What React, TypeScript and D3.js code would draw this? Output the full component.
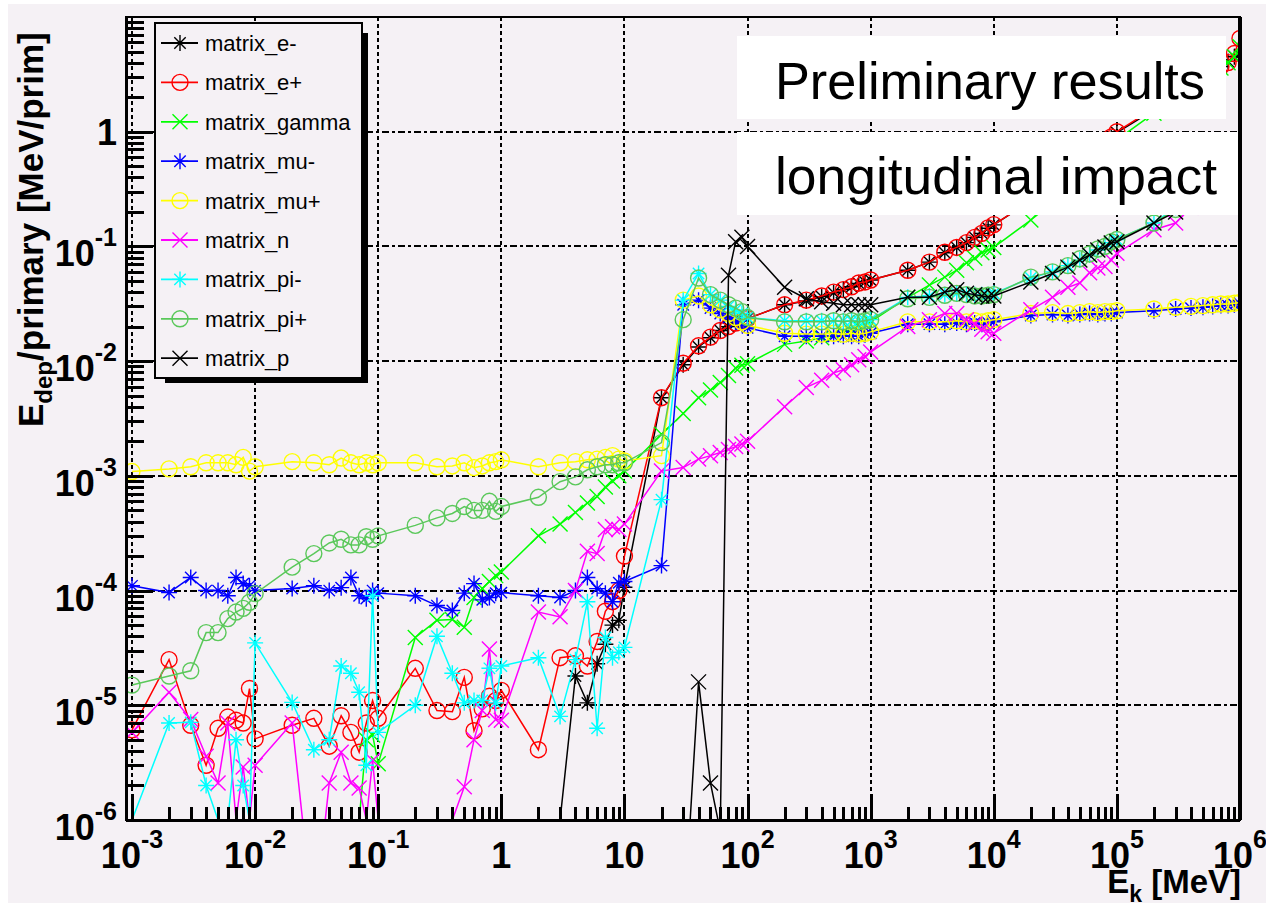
import React from "react";
import * as d3 from "d3";

// kinetic energy grid [MeV]
const energies = [
  0.001, 0.002, 0.003, 0.004, 0.005, 0.006, 0.007, 0.008, 0.009,
  0.01, 0.02, 0.03, 0.04, 0.05, 0.06, 0.07, 0.08, 0.09,
  0.1, 0.2, 0.3, 0.4, 0.5, 0.6, 0.7, 0.8, 0.9,
  1, 2, 3, 4, 5, 6, 7, 8, 9,
  10, 20, 30, 40, 50, 60, 70, 80, 90,
  100, 200, 300, 400, 500, 600, 700, 800, 900,
  1e3, 2e3, 3e3, 4e3, 5e3, 6e3, 7e3, 8e3, 9e3,
  1e4, 2e4, 3e4, 4e4, 5e4, 6e4, 7e4, 8e4, 9e4,
  1e5, 2e5, 3e5, 4e5, 5e5, 6e5, 7e5, 8e5, 9e5,
  1e6,
];

// E_dep / primary [MeV/prim]; 0 = nothing deposited
const eMinus = [
  0, 0, 0, 0, 0, 0, 0, 0, 0,
  0, 0, 0, 0, 0, 0, 0, 0, 0,
  0, 0, 0, 0, 0, 0, 0, 0, 0,
  0, 0, 0, 1.8e-5, 1.05e-5, 2.3e-5, 3.4e-5, 5.0e-5, 5.5e-5,
  1.07e-4, 4.8e-3, 9.3e-3, 1.33e-2, 1.6e-2, 1.85e-2, 2.0e-2, 2.15e-2, 2.25e-2,
  2.35e-2, 3.1e-2, 3.35e-2, 3.65e-2, 3.95e-2, 4.2e-2, 4.45e-2, 4.75e-2, 4.9e-2,
  5.1e-2, 6.2e-2, 7.3e-2, 8.8e-2, 9.8e-2, 0.108, 0.12, 0.13, 0.144,
  0.154, 0.25, 0.33, 0.41, 0.5, 0.58, 0.68, 0.78, 0.88,
  0.98, 1.55, 2.0, 2.5, 2.9, 3.3, 3.7, 4.1, 4.5,
  4.7,
];

const ePlus = [
  6.1e-6, 2.5e-5, 6.7e-6, 3.0e-6, 6.3e-6, 7.9e-6, 7.4e-6, 7.0e-6, 1.4e-5,
  5.1e-6, 6.7e-6, 7.7e-6, 4.4e-6, 8.1e-6, 5.8e-6, 3.9e-6, 7.0e-6, 1.1e-5,
  7.7e-6, 2.1e-5, 9.0e-6, 8.8e-6, 1.75e-5, 6.0e-6, 9.3e-6, 1.2e-5, 1.1e-5,
  1.35e-5, 4.1e-6, 2.6e-5, 2.7e-5, 2.2e-5, 3.6e-5, 6.6e-5, 8.0e-5, 1.0e-4,
  2.0e-4, 4.8e-3, 9.6e-3, 1.36e-2, 1.62e-2, 1.85e-2, 2.0e-2, 2.15e-2, 2.25e-2,
  2.35e-2, 3.1e-2, 3.4e-2, 3.7e-2, 4.0e-2, 4.2e-2, 4.45e-2, 4.8e-2, 4.9e-2,
  5.1e-2, 6.2e-2, 7.3e-2, 8.9e-2, 9.8e-2, 0.108, 0.12, 0.13, 0.145,
  0.155, 0.25, 0.34, 0.42, 0.51, 0.6, 0.7, 0.8, 0.9,
  1.0, 1.6, 2.1, 2.5, 2.9, 3.3, 3.7, 4.0, 4.8,
  6.5,
];

const gamma = [
  0, 0, 0, 0, 0, 0, 0, 0, 0,
  0, 0, 0, 0, 0, 0, 0, 5.0e-6, 5.5e-6,
  3.1e-6, 3.9e-5, 5.5e-5, 5.6e-5, 4.8e-5, 8.7e-5, 1.04e-4, 1.2e-4, 1.35e-4,
  1.45e-4, 3.0e-4, 3.8e-4, 4.8e-4, 5.8e-4, 6.6e-4, 8.0e-4, 9.0e-4, 1.0e-3,
  1.1e-3, 2.3e-3, 3.5e-3, 4.8e-3, 5.6e-3, 6.5e-3, 7.5e-3, 8.7e-3, 9.2e-3,
  9.5e-3, 1.4e-2, 1.5e-2, 1.6e-2, 1.7e-2, 1.8e-2, 1.9e-2, 2.0e-2, 2.1e-2,
  2.2e-2, 3.6e-2, 4.6e-2, 5.4e-2, 6.2e-2, 7.2e-2, 7.9e-2, 8.8e-2, 9.3e-2,
  9.8e-2, 0.17, 0.24, 0.31, 0.38, 0.46, 0.55, 0.65, 0.75,
  0.85, 1.45, 2.0, 2.4, 2.8, 3.2, 3.6, 4.0, 4.5,
  5.5,
];

const muMinus = [
  1.1e-4, 0.96e-4, 1.3e-4, 1.0e-4, 1.0e-4, 0.9e-4, 1.3e-4, 1.15e-4, 1.1e-4,
  1.0e-4, 1.04e-4, 1.1e-4, 1.0e-4, 1.06e-4, 1.3e-4, 0.9e-4, 0.85e-4, 1.0e-4,
  0.95e-4, 0.9e-4, 0.74e-4, 0.67e-4, 0.95e-4, 1.15e-4, 0.83e-4, 0.87e-4, 0.95e-4,
  0.96e-4, 0.9e-4, 0.87e-4, 1.0e-4, 1.3e-4, 1.04e-4, 0.95e-4, 0.8e-4, 1.17e-4,
  1.2e-4, 1.65e-4, 3.1e-2, 3.4e-2, 2.9e-2, 2.6e-2, 2.4e-2, 2.2e-2, 2.1e-2,
  1.95e-2, 1.65e-2, 1.65e-2, 1.65e-2, 1.65e-2, 1.65e-2, 1.65e-2, 1.65e-2, 1.7e-2,
  1.75e-2, 2.1e-2, 2.1e-2, 2.1e-2, 2.15e-2, 2.1e-2, 2.15e-2, 2.1e-2, 2.15e-2,
  2.2e-2, 2.5e-2, 2.55e-2, 2.5e-2, 2.55e-2, 2.6e-2, 2.55e-2, 2.6e-2, 2.6e-2,
  2.65e-2, 2.75e-2, 2.85e-2, 2.9e-2, 2.95e-2, 3.0e-2, 3.05e-2, 3.05e-2, 3.1e-2,
  3.15e-2,
];

const muPlus = [
  1.09e-3, 1.15e-3, 1.2e-3, 1.3e-3, 1.3e-3, 1.3e-3, 1.25e-3, 1.45e-3, 1.1e-3,
  1.2e-3, 1.33e-3, 1.3e-3, 1.25e-3, 1.43e-3, 1.3e-3, 1.25e-3, 1.3e-3, 1.25e-3,
  1.3e-3, 1.3e-3, 1.2e-3, 1.22e-3, 1.3e-3, 1.18e-3, 1.22e-3, 1.3e-3, 1.33e-3,
  1.38e-3, 1.2e-3, 1.3e-3, 1.33e-3, 1.38e-3, 1.4e-3, 1.45e-3, 1.5e-3, 1.4e-3,
  1.35e-3, 1.5e-3, 3.4e-2, 3.7e-2, 3.1e-2, 2.8e-2, 2.6e-2, 2.4e-2, 2.2e-2,
  2.05e-2, 1.75e-2, 1.72e-2, 1.72e-2, 1.75e-2, 1.72e-2, 1.75e-2, 1.72e-2, 1.75e-2,
  1.8e-2, 2.2e-2, 2.2e-2, 2.2e-2, 2.25e-2, 2.2e-2, 2.25e-2, 2.2e-2, 2.25e-2,
  2.3e-2, 2.6e-2, 2.65e-2, 2.6e-2, 2.65e-2, 2.7e-2, 2.65e-2, 2.7e-2, 2.7e-2,
  2.75e-2, 2.85e-2, 2.95e-2, 3.0e-2, 3.05e-2, 3.1e-2, 3.15e-2, 3.15e-2, 3.2e-2,
  3.25e-2,
];

const neutron = [
  5.8e-6, 1.3e-5, 7.5e-6, 3.6e-6, 2.1e-6, 7.0e-6, 0, 2.9e-6, 0,
  3.0e-6, 7.0e-6, 1.2e-7, 2.1e-6, 3.9e-6, 2.1e-6, 1.9e-6, 0, 3.3e-6,
  0, 0, 0, 0, 1.95e-6, 5.0e-6, 9.0e-6, 3.1e-5, 7.5e-6,
  7.4e-6, 6.5e-5, 5.9e-5, 1.0e-4, 2.2e-4, 2.1e-4, 3.4e-4, 3.6e-4, 3.4e-4,
  3.8e-4, 1.1e-3, 1.18e-3, 1.4e-3, 1.5e-3, 1.6e-3, 1.7e-3, 1.8e-3, 1.9e-3,
  2.0e-3, 4.0e-3, 5.9e-3, 6.8e-3, 7.9e-3, 8.4e-3, 9.3e-3, 1.03e-2, 1.1e-2,
  1.2e-2, 2.0e-2, 2.3e-2, 2.6e-2, 2.6e-2, 2.3e-2, 2.1e-2, 1.9e-2, 1.8e-2,
  1.75e-2, 2.8e-2, 3.6e-2, 4.4e-2, 4.8e-2, 5.9e-2, 6.5e-2, 6.7e-2, 7.6e-2,
  8.7e-2, 0.14, 0.16, 0.22, 0.28, 0.35, 0.45, 0.55, 0.7,
  0.85,
];

const piMinus = [
  0, 7.0e-6, 7.1e-6, 2.0e-6, 0, 0, 5.0e-6, 2.0e-6, 0,
  3.5e-5, 1.06e-5, 4.1e-6, 5.0e-6, 2.2e-5, 1.9e-5, 1.3e-5, 3.0e-6, 9.0e-5,
  5.8e-6, 1.0e-5, 4.0e-5, 1.9e-5, 1.05e-5, 1.1e-5, 1.1e-5, 2.1e-5, 1.05e-5,
  2.2e-5, 2.6e-5, 8.0e-6, 2.5e-5, 8.0e-5, 6.3e-6, 3.9e-5, 2.6e-5, 2.9e-5,
  3.2e-5, 6.2e-4, 3.4e-2, 5.8e-2, 3.8e-2, 3.4e-2, 3.0e-2, 2.8e-2, 2.6e-2,
  2.4e-2, 2.25e-2, 2.25e-2, 2.25e-2, 2.25e-2, 2.25e-2, 2.25e-2, 2.25e-2, 2.25e-2,
  2.3e-2, 3.6e-2, 3.7e-2, 3.8e-2, 3.9e-2, 3.8e-2, 3.8e-2, 3.8e-2, 3.8e-2,
  3.9e-2, 5.3e-2, 6.0e-2, 6.8e-2, 7.6e-2, 8.4e-2, 9.3e-2, 0.1, 0.108,
  0.115, 0.16, 0.22, 0.28, 0.34, 0.42, 0.5, 0.6, 0.68,
  0.75,
];

const piPlus = [
  1.5e-5, 1.8e-5, 2.0e-5, 4.3e-5, 4.3e-5, 5.7e-5, 6.5e-5, 7.0e-5, 7.9e-5,
  9.4e-5, 1.6e-4, 2.1e-4, 2.6e-4, 2.8e-4, 2.5e-4, 2.5e-4, 2.95e-4, 2.8e-4,
  3.0e-4, 3.7e-4, 4.3e-4, 4.7e-4, 5.4e-4, 5.0e-4, 5.0e-4, 6.0e-4, 4.9e-4,
  5.4e-4, 6.5e-4, 8.9e-4, 9.8e-4, 1.13e-3, 1.2e-3, 1.25e-3, 1.25e-3, 1.3e-3,
  1.3e-3, 1.95e-3, 2.3e-2, 5.3e-2, 3.8e-2, 3.4e-2, 3.1e-2, 2.9e-2, 2.7e-2,
  2.4e-2, 2.2e-2, 2.2e-2, 2.2e-2, 2.25e-2, 2.2e-2, 2.25e-2, 2.2e-2, 2.25e-2,
  2.3e-2, 3.5e-2, 3.6e-2, 3.75e-2, 3.9e-2, 3.8e-2, 3.7e-2, 3.7e-2, 3.75e-2,
  3.8e-2, 5.4e-2, 6.0e-2, 6.8e-2, 7.8e-2, 8.6e-2, 9.5e-2, 0.1, 0.11,
  0.115, 0.16, 0.21, 0.26, 0.32, 0.38, 0.45, 0.52, 0.6,
  0.65,
];

const proton = [
  0, 0, 0, 0, 0, 0, 0, 0, 0,
  0, 0, 0, 0, 0, 0, 0, 0, 0,
  0, 0, 0, 0, 0, 0, 0, 0, 0,
  0, 0, 0, 0, 0, 0, 0, 0, 0,
  0, 0, 1e-7, 1.6e-5, 2.1e-6, 8e-7, 5.6e-2, 0.11, 0.12,
  0.1, 0.044, 0.035, 0.033, 0.032, 0.031, 0.031, 0.031, 0.031,
  0.031, 0.036, 0.036, 0.04, 0.042, 0.039, 0.038, 0.037, 0.036,
  0.037, 0.049, 0.058, 0.066, 0.076, 0.084, 0.093, 0.099, 0.107,
  0.11, 0.16, 0.2, 0.24, 0.28, 0.32, 0.36, 0.4, 0.45,
  0.5,
];

const seriesNames = [
  "matrix_e-", "matrix_e+", "matrix_gamma", "matrix_mu-", "matrix_mu+",
  "matrix_n", "matrix_pi-", "matrix_pi+", "matrix_p",
];
const seriesValues = [eMinus, ePlus, gamma, muMinus, muPlus, neutron, piMinus, piPlus, proton];
const seriesColors = ["#000000", "#ff0000", "#00ff00", "#0000ff", "#ffff00", "#ff00ff", "#00ffff", "#5ac85a", "#000000"];
const seriesMarkers = ["star", "circle", "cross", "star", "circle", "cross", "star", "circle", "cross"];

const xDecades = [-3, -2, -1, 0, 1, 2, 3, 4, 5, 6];
const yDecades = [-6, -5, -4, -3, -2, -1, 0];

const FONT = "'Liberation Sans', Arial, Helvetica, sans-serif";
const BG = "#f5f1f5";

const frame = { left: 126, right: 1240, top: 17, bottom: 820 };
const x = d3.scaleLog().domain([1e-3, 1e6]).range([132, 1240]);
const y = d3.scaleLog().domain([1e-6, 10]).range([820, 17]);

function Marker({ kind, cx, cy, color }: { kind: string; cx: number; cy: number; color: string }) {
  if (kind === "circle") {
    return <circle cx={cx} cy={cy} r={8} fill="none" stroke={color} strokeWidth={1.4} />;
  }
  if (kind === "star") {
    const s = 8, d = 5.7;
    return (
      <path
        d={`M${cx - s},${cy}H${cx + s}M${cx},${cy - s}V${cy + s}M${cx - d},${cy - d}L${cx + d},${cy + d}M${cx - d},${cy + d}L${cx + d},${cy - d}`}
        stroke={color} strokeWidth={1.4} fill="none"
      />
    );
  }
  const s = 7.5;
  return (
    <path
      d={`M${cx - s},${cy - s}L${cx + s},${cy + s}M${cx - s},${cy + s}L${cx + s},${cy - s}`}
      stroke={color} strokeWidth={1.4} fill="none"
    />
  );
}

function powerLabel(exp: number) {
  if (exp === 0) return { base: "1", sup: "" };
  if (exp === 1) return { base: "10", sup: "" };
  return { base: "10", sup: String(exp) };
}

export default function App() {
  // zero values sit on the lower frame edge like in ROOT
  const line = d3.line<[number, number]>()
    .x(d => x(d[0]))
    .y(d => (d[1] > 0 ? y(d[1]) : y(1e-6)));

  const minorX: number[] = [];
  xDecades.slice(0, -1).forEach(p => {
    for (let m = 2; m <= 9; m++) minorX.push(m * Math.pow(10, p));
  });
  const minorY: number[] = [];
  [-6, -5, -4, -3, -2, -1, 0].forEach(p => {
    for (let m = 2; m <= 9; m++) minorY.push(m * Math.pow(10, p));
  });

  const legendY = (i: number) => 43 + i * 39.4;
  const px = (v: number) => Math.round(x(v));
  const py = (v: number) => Math.round(y(v));

  return (
    <svg width={1266} height={905} style={{ position: "absolute", left: 0, top: 0 }} fontFamily={FONT}>
      <rect x={0} y={0} width={1266} height={905} fill="#ffffff" />
      <rect x={8} y={4} width={1258} height={899} fill={BG} />
      <defs>
        <clipPath id="plot-clip">
          <rect x={frame.left} y={frame.top} width={frame.right - frame.left} height={frame.bottom - frame.top} />
        </clipPath>
      </defs>

      {/* grid */}
      <g stroke="#000" strokeWidth={2.6} fill="none" shapeRendering="crispEdges">
        {yDecades.slice(1).map(p => (
          <line key={"gy" + p} x1={frame.left} x2={frame.right} y1={py(Math.pow(10, p))} y2={py(Math.pow(10, p))}
            strokeDasharray="7 3 3 3" />
        ))}
        {xDecades.slice(0, -1).map(p => (
          <line key={"gx" + p} x1={px(Math.pow(10, p))} x2={px(Math.pow(10, p))} y1={frame.top} y2={frame.bottom}
            strokeDasharray="4 3" />
        ))}
      </g>

      {/* data */}
      <g clipPath="url(#plot-clip)">
        {seriesValues.map((vals, si) => {
          const pts = energies.map((e, i) => [e, vals[i]] as [number, number]);
          return (
            <g key={seriesNames[si]}>
              <path d={line(pts) || ""} fill="none" stroke={seriesColors[si]} strokeWidth={1.5} />
              {pts.filter(d => d[1] >= 1e-6).map((d, i) => (
                <Marker key={i} kind={seriesMarkers[si]} cx={x(d[0])} cy={y(d[1])} color={seriesColors[si]} />
              ))}
            </g>
          );
        })}
      </g>

      {/* frame and ticks */}
      <g stroke="#000" fill="none" shapeRendering="crispEdges">
        <rect x={frame.left} y={frame.top} width={frame.right - frame.left} height={frame.bottom - frame.top} strokeWidth={2} />
        <line x1={frame.right} x2={frame.right} y1={frame.top} y2={frame.bottom} strokeWidth={4} />
        <line x1={frame.left} x2={frame.left} y1={frame.top} y2={frame.bottom} strokeWidth={3} />
        <line x1={frame.left} x2={frame.right} y1={frame.bottom} y2={frame.bottom} strokeWidth={3} />
        {yDecades.map(p => (
          <line key={"ty" + p} x1={frame.left} x2={frame.left + 27} y1={py(Math.pow(10, p))} y2={py(Math.pow(10, p))} strokeWidth={3} />
        ))}
        {minorY.map(v => (
          <line key={"my" + v} x1={frame.left} x2={frame.left + 18} y1={py(v)} y2={py(v)} strokeWidth={3} />
        ))}
        {xDecades.map(p => (
          <line key={"tx" + p} x1={px(Math.pow(10, p))} x2={px(Math.pow(10, p))} y1={frame.bottom} y2={frame.bottom - 26} strokeWidth={3} />
        ))}
        {minorX.map(v => (
          <line key={"mx" + v} x1={px(v)} x2={px(v)} y1={frame.bottom} y2={frame.bottom - 13} strokeWidth={3} />
        ))}
      </g>

      {/* tick labels */}
      <g fontWeight="bold" fill="#000">
        {xDecades.map(p => {
          const l = powerLabel(p);
          return (
            <text key={"lx" + p} x={x(Math.pow(10, p))} y={868} textAnchor="middle" fontSize={36}>
              {l.base}
              {l.sup && <tspan dy={-20} fontSize={25}>{l.sup}</tspan>}
            </text>
          );
        })}
        {yDecades.map(p => {
          const l = powerLabel(p);
          const yy = y(Math.pow(10, p));
          return (
            <text key={"ly" + p} x={117} y={l.sup ? yy + 20 : yy + 13} textAnchor="end" fontSize={36}>
              {l.base}
              {l.sup && <tspan dy={-20} fontSize={25}>{l.sup}</tspan>}
            </text>
          );
        })}
      </g>

      {/* axis titles */}
      <text x={1241} y={893} textAnchor="end" fontWeight="bold" fontSize={33}>
        E<tspan dy={9} fontSize={23}>k</tspan><tspan dy={-9}> [MeV]</tspan>
      </text>
      <text transform="translate(43,427) rotate(-90)" fontWeight="bold" fontSize={35}>
        E<tspan dy={9} fontSize={24}>dep</tspan><tspan dy={-9}>/primary [MeV/prim]</tspan>
      </text>

      {/* legend */}
      <rect x={165} y={33} width={203} height={350} fill="#000" />
      <rect x={155} y={23} width={207} height={355} fill={BG} stroke="#000" strokeWidth={2} />
      {seriesNames.map((name, i) => (
        <g key={"leg" + name}>
          <line x1={161} x2={198} y1={legendY(i)} y2={legendY(i)} stroke={seriesColors[i]} strokeWidth={1.8} />
          <Marker kind={seriesMarkers[i]} cx={180} cy={legendY(i)} color={seriesColors[i]} />
          <text x={205} y={legendY(i) + 8} fontSize={22} fill="#000">{name}</text>
        </g>
      ))}

      {/* annotation */}
      <rect x={737} y={36} width={489} height={83} fill="#ffffff" />
      <rect x={737} y={132} width={501} height={83} fill="#ffffff" />
      <text x={775} y={99} fontSize={52} textLength={430} lengthAdjust="spacingAndGlyphs" fill="#000">Preliminary results</text>
      <text x={775} y={194} fontSize={52} textLength={442} lengthAdjust="spacingAndGlyphs" fill="#000">longitudinal impact</text>
    </svg>
  );
}
